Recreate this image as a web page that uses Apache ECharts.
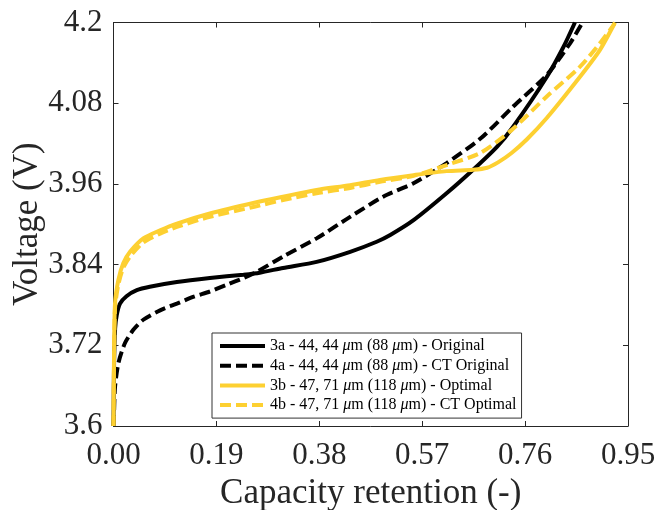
<!DOCTYPE html>
<html>
<head>
<meta charset="utf-8">
<script src="https://cdn.jsdelivr.net/npm/echarts@6/dist/echarts.min.js"></script>
<style>
html,body{margin:0;padding:0;background:#fff;}
#chart{width:655px;height:510px;}
</style>
</head>
<body>
<div id="chart"></div>
<script>
// ---- data ----
const seriesNames = [
  '3a - 44, 44 μm (88 μm) - Original',
  '4a - 44, 44 μm (88 μm) - CT Original',
  '3b - 47, 71 μm (118 μm) - Optimal',
  '4b - 47, 71 μm (118 μm) - CT Optimal'
];
const xTicks = [0.00, 0.19, 0.38, 0.57, 0.76, 0.95];
const yTicks = [3.6, 3.72, 3.84, 3.96, 4.08, 4.2];

const s3a_x = [0, 0.001, 0.003, 0.006, 0.012, 0.024, 0.043, 0.067, 0.117, 0.178, 0.240, 0.270, 0.313, 0.375, 0.437, 0.486, 0.511, 0.554, 0.615, 0.664, 0.708, 0.738, 0.800, 0.831, 0.852];
const s3a_y = [3.6, 3.69, 3.745, 3.765, 3.782, 3.793, 3.802, 3.807, 3.814, 3.820, 3.825, 3.828, 3.835, 3.844, 3.859, 3.874, 3.884, 3.906, 3.946, 3.981, 4.015, 4.045, 4.119, 4.164, 4.2];

const s4a_x = [0, 0.001, 0.0028, 0.0089, 0.021, 0.0366, 0.055, 0.086, 0.117, 0.147, 0.178, 0.209, 0.240, 0.264, 0.313, 0.375, 0.437, 0.498, 0.554, 0.615, 0.677, 0.738, 0.800, 0.843, 0.866];
const s4a_y = [3.6, 3.62, 3.658, 3.693, 3.723, 3.743, 3.758, 3.772, 3.782, 3.792, 3.800, 3.810, 3.820, 3.829, 3.852, 3.879, 3.911, 3.941, 3.961, 3.991, 4.027, 4.075, 4.122, 4.169, 4.2];

const s3b_x = [0, 0.001, 0.0028, 0.0089, 0.018, 0.0305, 0.055, 0.086, 0.117, 0.178, 0.260, 0.313, 0.375, 0.437, 0.492, 0.554, 0.615, 0.664, 0.690, 0.710, 0.735, 0.763, 0.800, 0.861, 0.898, 0.926];
const s3b_y = [3.6, 3.708, 3.782, 3.817, 3.842, 3.859, 3.879, 3.891, 3.901, 3.916, 3.932, 3.941, 3.951, 3.958, 3.966, 3.973, 3.979, 3.981, 3.984, 3.992, 4.006, 4.026, 4.058, 4.119, 4.159, 4.2];

const s4b_x = [0, 0.001, 0.0028, 0.0089, 0.018, 0.0305, 0.055, 0.086, 0.117, 0.178, 0.260, 0.313, 0.375, 0.437, 0.492, 0.554, 0.615, 0.677, 0.735, 0.800, 0.861, 0.898, 0.925];
const s4b_y = [3.6, 3.70, 3.775, 3.81, 3.835, 3.852, 3.873, 3.886, 3.896, 3.911, 3.926, 3.936, 3.946, 3.954, 3.963, 3.972, 3.988, 4.006, 4.040, 4.090, 4.134, 4.169, 4.198];

// ---- chart ----
const BLACK = '#000000';
const YELLOW = '#FDD031';
const FONT = '"Liberation Serif", "Times New Roman", serif';
const AXIS_COLOR = '#262626';

function zip(xs, ys) { return xs.map((x, i) => [x, ys[i]]); }

const xMin = xTicks[0], xMax = xTicks[xTicks.length - 1], xInt = xTicks[1] - xTicks[0];
const yMin = yTicks[0], yMax = yTicks[yTicks.length - 1], yInt = 0.12;

function mkSeries(name, xs, ys, color, dashed) {
  return {
    name: name,
    type: 'line',
    data: zip(xs, ys),
    showSymbol: false,
    symbol: 'none',
    smooth: 0.25,
    clip: false,
    lineStyle: { color: color, width: 4, type: dashed ? [11, 5] : 'solid', cap: 'butt' },
    itemStyle: { color: color },
    emphasis: { disabled: true },
    z: 2
  };
}

const chart = echarts.init(document.getElementById('chart'), null, { renderer: 'canvas' });
const axisCommon = {
  axisLine: { show: true, onZero: false, lineStyle: { color: AXIS_COLOR, width: 1 } },
  axisTick: { show: true, inside: true, length: 5, lineStyle: { color: AXIS_COLOR, width: 1 } },
  splitLine: { show: false }
};

chart.setOption({
  animation: false,
  backgroundColor: '#ffffff',
  grid: { left: 113.5, right: 27, top: 22.5, bottom: 84, containLabel: false, outerBoundsMode: 'none' },
  legend: {
    orient: 'vertical',
    left: 212,
    top: 333,
    data: seriesNames,
    itemWidth: 45,
    itemHeight: 16,
    itemGap: 3.7,
    padding: [5, 5, 5, 6],
    borderColor: '#333333',
    borderWidth: 1,
    backgroundColor: '#ffffff',
    selectedMode: false,
    itemStyle: { color: 'rgba(0,0,0,0)', borderWidth: 0, opacity: 0 },
    lineStyle: { width: 4 },
    formatter: function (name) { return name.replace(/μ/g, '{m|μ}'); },
    textStyle: {
      fontFamily: FONT, fontSize: 16, color: '#000', lineHeight: 16,
      rich: { m: { fontFamily: FONT, fontSize: 16, fontStyle: 'italic', color: '#000', lineHeight: 16 } }
    }
  },
  xAxis: [
    Object.assign({
      type: 'value', min: xMin, max: xMax, interval: xInt, position: 'bottom',
      name: 'Capacity retention (-)', nameLocation: 'middle', nameGap: 50, nameMoveOverlap: false,
      nameTextStyle: { fontFamily: FONT, fontSize: 35, color: AXIS_COLOR },
      axisLabel: { fontFamily: FONT, fontSize: 31, color: AXIS_COLOR, margin: 14,
        formatter: v => v.toFixed(2) }
    }, axisCommon),
    Object.assign({
      type: 'value', min: xMin, max: xMax, interval: xInt, position: 'top',
      axisLabel: { show: false }
    }, axisCommon)
  ],
  yAxis: [
    Object.assign({
      type: 'value', min: yMin, max: yMax, interval: yInt, position: 'left',
      name: 'Voltage (V)', nameLocation: 'middle', nameGap: 68, nameMoveOverlap: false,
      nameTextStyle: { fontFamily: FONT, fontSize: 35, color: AXIS_COLOR },
      axisLabel: { fontFamily: FONT, fontSize: 31, color: AXIS_COLOR, margin: 11,
        padding: [4, 0, 0, 0],
        formatter: v => String(+v.toFixed(2)) }
    }, axisCommon),
    Object.assign({
      type: 'value', min: yMin, max: yMax, interval: yInt, position: 'right',
      axisLabel: { show: false }
    }, axisCommon)
  ],
  series: [
    mkSeries(seriesNames[0], s3a_x, s3a_y, BLACK, false),
    mkSeries(seriesNames[1], s4a_x, s4a_y, BLACK, true),
    mkSeries(seriesNames[2], s3b_x, s3b_y, YELLOW, false),
    mkSeries(seriesNames[3], s4b_x, s4b_y, YELLOW, true)
  ]
});
</script>
</body>
</html>
